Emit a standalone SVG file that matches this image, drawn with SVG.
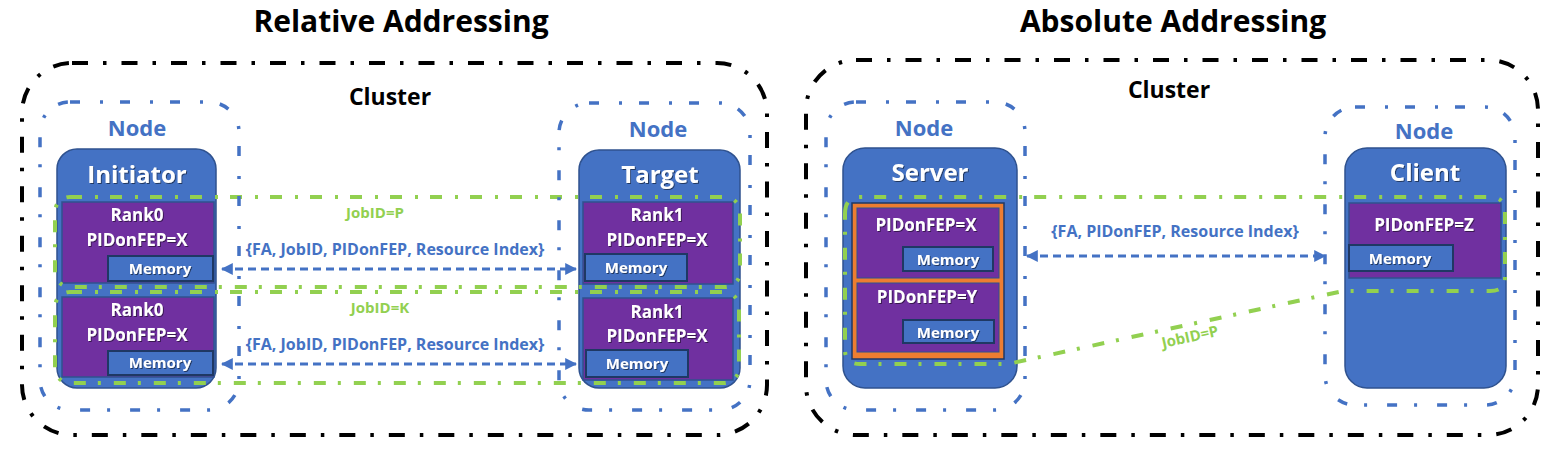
<svg xmlns="http://www.w3.org/2000/svg" width="1560" height="454" viewBox="0 0 1560 454">
<defs>
<style>
text{font-family:"Open Sans",Lato,"Liberation Sans",sans-serif;font-weight:bold;text-anchor:middle}
.title{font-size:30px;fill:#000}
.clabel{font-size:23px;fill:#000}
.nlabel{font-size:22px;fill:#4472C4}
.hlabel{font-size:24px;fill:#fff;filter:url(#sh)}
.wt{font-size:17px;fill:#fff;filter:url(#sh)}
.mt{font-size:15px;fill:#fff;filter:url(#sh)}
.alab{font-size:16px;fill:#4472C4}
.glab{font-size:15px;fill:#92D050}
.cluster{fill:none;stroke:#000;stroke-width:4;stroke-dasharray:16 15 3.5 15}
.node{fill:none;stroke:#4472C4;stroke-width:3.5;stroke-dasharray:10 20 3 17}
.box{fill:#4472C4;stroke:#2F528F;stroke-width:1.5}
.rank{fill:#7030A0;stroke:#2F528F;stroke-width:1.5}
.mem{fill:#4472C4;stroke:#1F3864;stroke-width:2}
.job{fill:none;stroke:#92D050;stroke-width:4;stroke-dasharray:12 13 3 12}
.arr{fill:none;stroke:#4472C4;stroke-width:3;stroke-dasharray:8 5;marker-start:url(#ah);marker-end:url(#ah)}
</style>
<marker id="ah" viewBox="0 0 10 10" refX="9" refY="5" markerWidth="4" markerHeight="4" orient="auto-start-reverse" markerUnits="strokeWidth">
<path d="M0 0 L10 5 L0 10 z" fill="#4472C4"/>
</marker>
<filter id="sh" x="-10%" y="-20%" width="130%" height="150%">
<feDropShadow dx="1" dy="1" stdDeviation="0.7" flood-color="#000" flood-opacity="0.5"/>
</filter>
</defs>
<rect width="1560" height="454" fill="#fff"/>

<text class="title" x="401" y="32">Relative Addressing</text>
<text class="title" x="1173" y="32">Absolute Addressing</text>

<g id="cluster-left">
<rect class="cluster" x="22" y="63" width="745" height="372" rx="50"/>
<text class="clabel" x="390" y="105">Cluster</text>
</g>
<g id="cluster-right">
<rect class="cluster" x="806" y="60" width="732" height="375" rx="50"/>
<text class="clabel" x="1169" y="98">Cluster</text>
</g>

<g id="node-initiator">
<rect class="box" x="57" y="149" width="159" height="239" rx="20"/>
<text class="hlabel" x="137" y="183">Initiator</text>
<rect class="rank" x="62" y="202" width="152" height="81"/>
<text class="wt" x="137" y="221">Rank0</text>
<text class="wt" x="137" y="246">PIDonFEP=X</text>
<rect class="mem" x="108" y="256" width="105" height="25"/>
<text class="mt" x="160" y="274">Memory</text>
<rect class="rank" x="62" y="297" width="152" height="80"/>
<text class="wt" x="137" y="316">Rank0</text>
<text class="wt" x="137" y="341">PIDonFEP=X</text>
<rect class="mem" x="108" y="351" width="105" height="24"/>
<text class="mt" x="160" y="368">Memory</text>
</g>

<g id="node-target">
<rect class="box" x="579" y="150" width="161" height="238" rx="20"/>
<text class="hlabel" x="660" y="183">Target</text>
<rect class="rank" x="583" y="202" width="150" height="82"/>
<text class="wt" x="657" y="221">Rank1</text>
<text class="wt" x="657" y="246">PIDonFEP=X</text>
<rect class="mem" x="585" y="254" width="102" height="27"/>
<text class="mt" x="636" y="273">Memory</text>
<rect class="rank" x="583" y="298" width="150" height="82"/>
<text class="wt" x="657" y="318">Rank1</text>
<text class="wt" x="657" y="342">PIDonFEP=X</text>
<rect class="mem" x="586" y="350" width="102" height="27"/>
<text class="mt" x="637" y="369">Memory</text>
</g>

<g id="node-server">
<rect class="box" x="843" y="148" width="174" height="240" rx="22"/>
<text class="hlabel" x="930" y="181">Server</text>
<rect x="852" y="203" width="152" height="156" fill="#ED7D31" stroke="#1F3864" stroke-width="1.5"/>
<rect x="857" y="208" width="142" height="70" fill="#7030A0" stroke="#2F528F" stroke-width="1"/>
<text class="wt" x="926" y="231">PIDonFEP=X</text>
<rect class="mem" x="903" y="247" width="90" height="24"/>
<text class="mt" x="948" y="265">Memory</text>
<rect x="857" y="283" width="142" height="69" fill="#7030A0" stroke="#2F528F" stroke-width="1"/>
<text class="wt" x="927" y="303">PIDonFEP=Y</text>
<rect class="mem" x="903" y="320" width="91" height="23"/>
<text class="mt" x="948" y="338">Memory</text>
</g>

<g id="node-client">
<rect class="box" x="1345" y="148" width="161" height="240" rx="22"/>
<text class="hlabel" x="1425" y="181">Client</text>
<rect class="rank" x="1349" y="203" width="152" height="75"/>
<text class="wt" x="1424" y="231">PIDonFEP=Z</text>
<rect class="mem" x="1349" y="245" width="104" height="26"/>
<text class="mt" x="1400" y="264">Memory</text>
</g>

<g id="jobs">
<rect class="job" x="55" y="197" width="685" height="90" rx="15"/>
<rect class="job" x="55" y="292" width="684" height="91" rx="15"/>
<path class="job" d="M845 214 Q845 197 860 197 H1490 Q1505 197 1505 212 V278 Q1505 291 1490 291 H1343 L1008 364 H860 Q845 364 845 350 Z"/>
<text class="glab" x="375" y="218">JobID=P</text>
<text class="glab" x="380" y="313">JobID=K</text>
<text class="glab" x="1190" y="342" transform="rotate(-12.6 1190 337)">JobID=P</text>
</g>

<g id="node-borders">
<rect class="node" x="40" y="102" width="199" height="308" rx="30"/>
<text class="nlabel" x="137" y="136">Node</text>
<rect class="node" x="559" y="103" width="191" height="307" rx="30"/>
<text class="nlabel" x="658" y="137">Node</text>
<rect class="node" x="826" y="102" width="199" height="308" rx="30"/>
<text class="nlabel" x="924" y="136">Node</text>
<rect class="node" x="1325" y="107" width="190" height="298" rx="30"/>
<text class="nlabel" x="1424" y="139">Node</text>
</g>

<g id="connectors">
<line class="arr" x1="222" y1="269" x2="576" y2="269"/>
<line class="arr" x1="222" y1="364" x2="576" y2="364"/>
<line class="arr" x1="1027" y1="256" x2="1325" y2="256"/>
<text class="alab" x="395" y="255">{FA, JobID, PIDonFEP, Resource Index}</text>
<text class="alab" x="395" y="350">{FA, JobID, PIDonFEP, Resource Index}</text>
<text class="alab" x="1175" y="237">{FA, PIDonFEP, Resource Index}</text>
</g>
</svg>
